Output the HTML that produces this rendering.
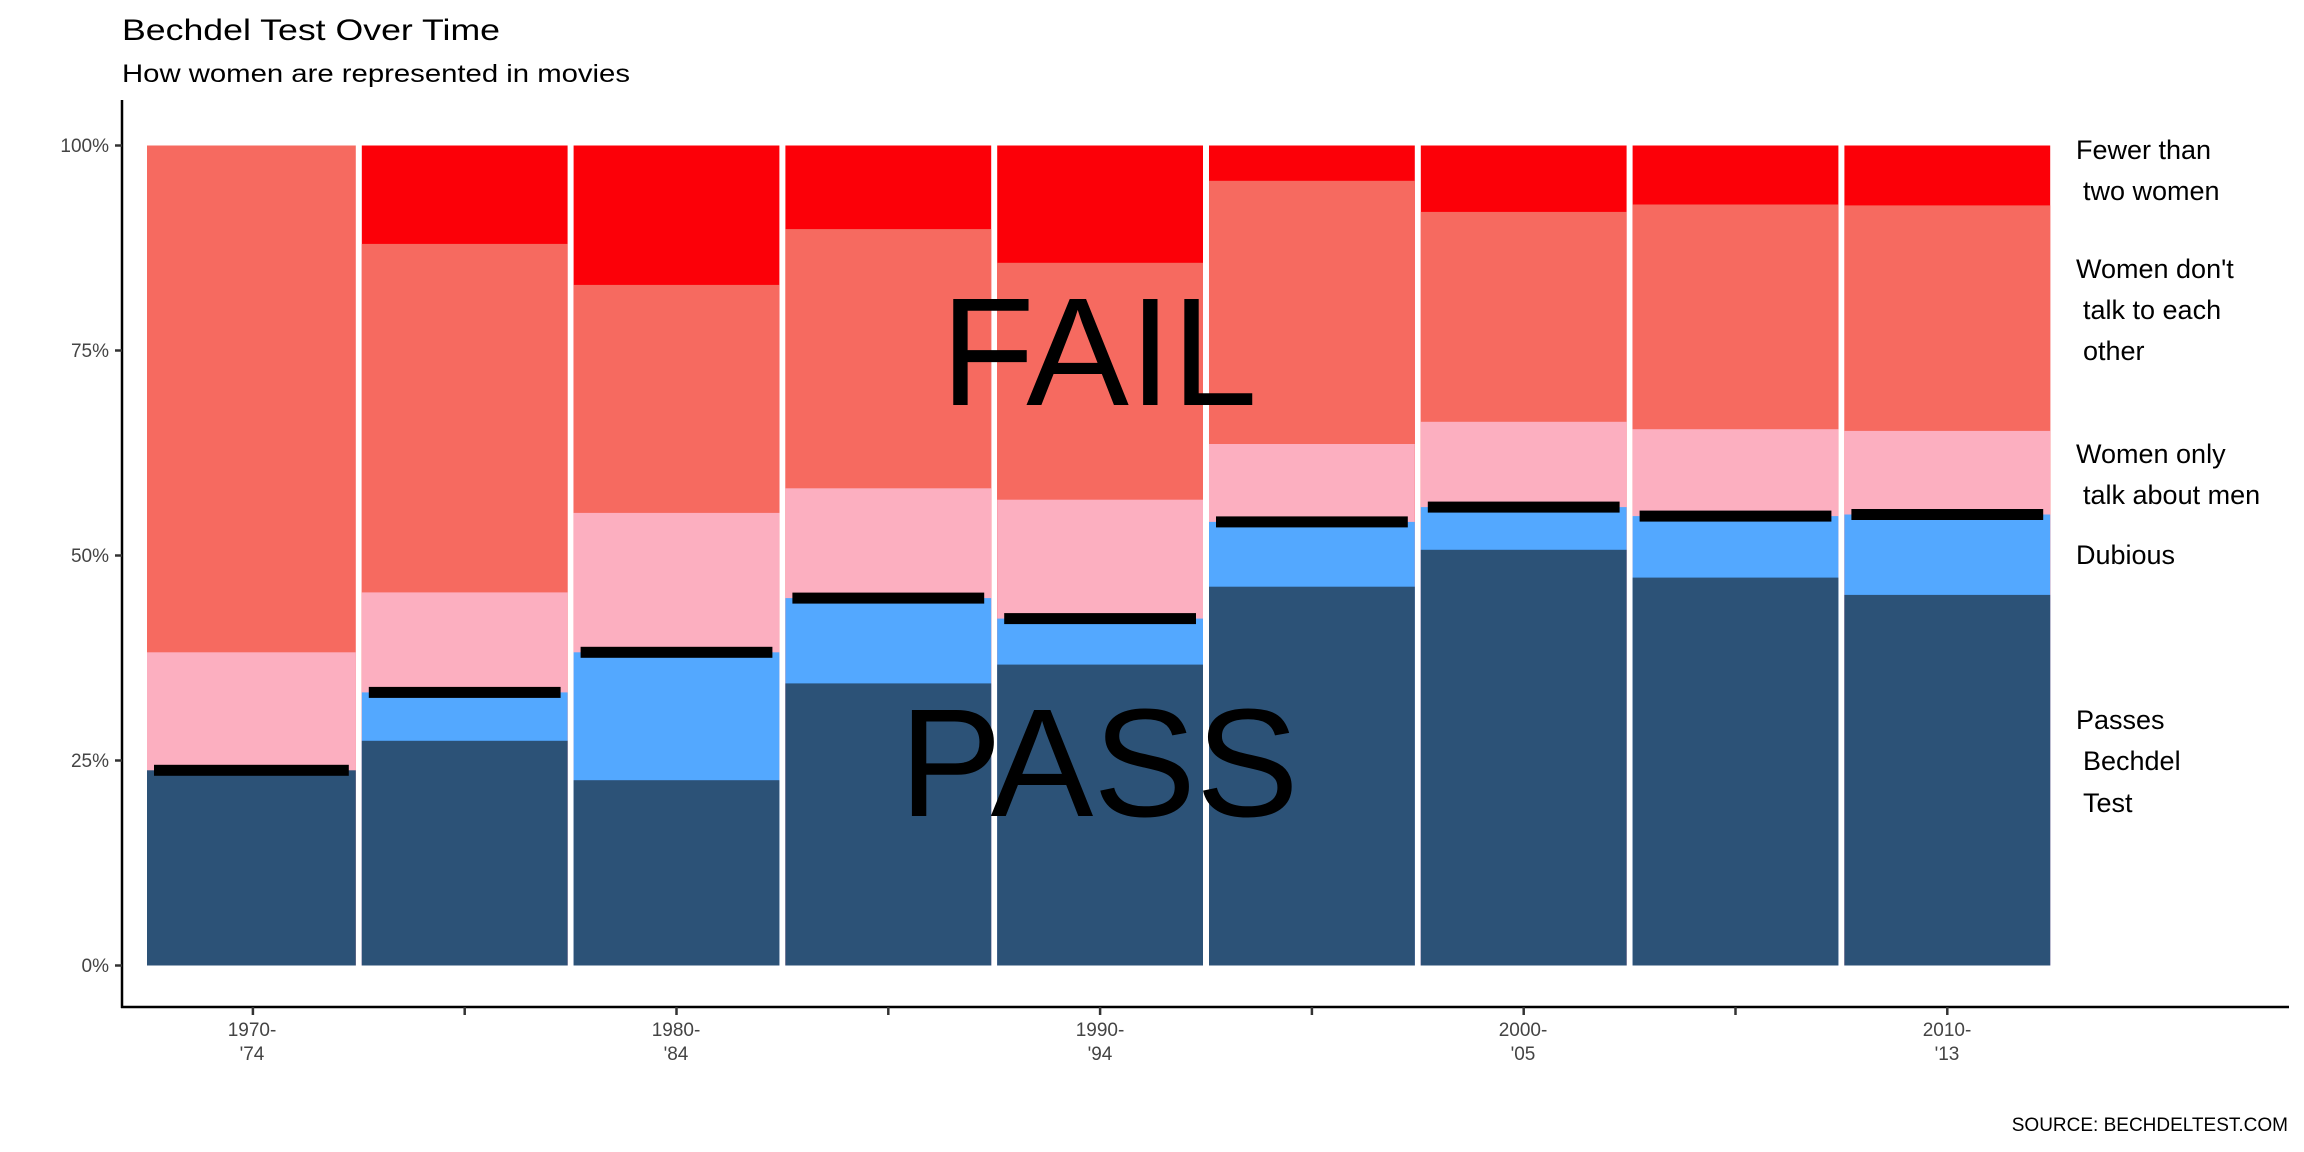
<!DOCTYPE html>
<html><head><meta charset="utf-8"><style>html,body{margin:0;padding:0;background:#fff}svg{display:block}text{font-family:"Liberation Sans",Arial,sans-serif}</style></head>
<body>
<svg width="2304" height="1152" viewBox="0 0 2304 1152" xmlns="http://www.w3.org/2000/svg">
<rect width="2304" height="1152" fill="#fff"/>
<text x="122" y="40" font-size="30" fill="#000" textLength="378" lengthAdjust="spacingAndGlyphs">Bechdel Test Over Time</text>
<text x="122" y="82" font-size="25" fill="#000" textLength="508" lengthAdjust="spacingAndGlyphs">How women are represented in movies</text>

<!-- bar 0 -->
<g>
<rect x="147" y="145.5" width="208.8" height="820" fill="#f66a60"/>
<rect x="147" y="652.3" width="208.8" height="313.2" fill="#fcafc0"/>
<rect x="147" y="770.3" width="208.8" height="195.2" fill="#2c5277"/>
<rect x="154" y="764.8" width="194.8" height="11" fill="#000"/>
</g>
<!-- bar 1 -->
<g>
<rect x="361.8" y="145.5" width="205.8" height="820" fill="#fc0008"/>
<rect x="361.8" y="243.9" width="205.8" height="721.6" fill="#f66a60"/>
<rect x="361.8" y="592.4" width="205.8" height="373.1" fill="#fcafc0"/>
<rect x="361.8" y="692.4" width="205.8" height="273.1" fill="#53a8ff"/>
<rect x="361.8" y="740.8" width="205.8" height="224.7" fill="#2c5277"/>
<rect x="368.8" y="686.9" width="191.8" height="11" fill="#000"/>
</g>
<!-- bar 2 -->
<g>
<rect x="573.6" y="145.5" width="205.8" height="820" fill="#fc0008"/>
<rect x="573.6" y="284.9" width="205.8" height="680.6" fill="#f66a60"/>
<rect x="573.6" y="512.9" width="205.8" height="452.6" fill="#fcafc0"/>
<rect x="573.6" y="652.3" width="205.8" height="313.2" fill="#53a8ff"/>
<rect x="573.6" y="780.2" width="205.8" height="185.3" fill="#2c5277"/>
<rect x="580.6" y="646.8" width="191.8" height="11" fill="#000"/>
</g>
<!-- bar 3 -->
<g>
<rect x="785.4" y="145.5" width="205.8" height="820" fill="#fc0008"/>
<rect x="785.4" y="229.1" width="205.8" height="736.4" fill="#f66a60"/>
<rect x="785.4" y="488.3" width="205.8" height="477.2" fill="#fcafc0"/>
<rect x="785.4" y="598.1" width="205.8" height="367.4" fill="#53a8ff"/>
<rect x="785.4" y="683.4" width="205.8" height="282.1" fill="#2c5277"/>
<rect x="792.4" y="592.6" width="191.8" height="11" fill="#000"/>
</g>
<!-- bar 4 -->
<g>
<rect x="997.2" y="145.5" width="205.8" height="820" fill="#fc0008"/>
<rect x="997.2" y="262.8" width="205.8" height="702.7" fill="#f66a60"/>
<rect x="997.2" y="499.7" width="205.8" height="465.8" fill="#fcafc0"/>
<rect x="997.2" y="618.6" width="205.8" height="346.9" fill="#53a8ff"/>
<rect x="997.2" y="664.6" width="205.8" height="300.9" fill="#2c5277"/>
<rect x="1004.2" y="613.1" width="191.8" height="11" fill="#000"/>
</g>
<!-- bar 5 -->
<g>
<rect x="1209" y="145.5" width="205.8" height="820" fill="#fc0008"/>
<rect x="1209" y="180.8" width="205.8" height="784.7" fill="#f66a60"/>
<rect x="1209" y="444" width="205.8" height="521.5" fill="#fcafc0"/>
<rect x="1209" y="521.9" width="205.8" height="443.6" fill="#53a8ff"/>
<rect x="1209" y="586.7" width="205.8" height="378.8" fill="#2c5277"/>
<rect x="1216" y="516.4" width="191.8" height="11" fill="#000"/>
</g>
<!-- bar 6 -->
<g>
<rect x="1420.8" y="145.5" width="205.8" height="820" fill="#fc0008"/>
<rect x="1420.8" y="211.9" width="205.8" height="753.6" fill="#f66a60"/>
<rect x="1420.8" y="421.8" width="205.8" height="543.7" fill="#fcafc0"/>
<rect x="1420.8" y="507.1" width="205.8" height="458.4" fill="#53a8ff"/>
<rect x="1420.8" y="549.8" width="205.8" height="415.7" fill="#2c5277"/>
<rect x="1427.8" y="501.6" width="191.8" height="11" fill="#000"/>
</g>
<!-- bar 7 -->
<g>
<rect x="1632.6" y="145.5" width="205.8" height="820" fill="#fc0008"/>
<rect x="1632.6" y="204.5" width="205.8" height="761" fill="#f66a60"/>
<rect x="1632.6" y="429.2" width="205.8" height="536.3" fill="#fcafc0"/>
<rect x="1632.6" y="516.1" width="205.8" height="449.4" fill="#53a8ff"/>
<rect x="1632.6" y="577.6" width="205.8" height="387.9" fill="#2c5277"/>
<rect x="1639.6" y="510.6" width="191.8" height="11" fill="#000"/>
</g>
<!-- bar 8 -->
<g>
<rect x="1844.4" y="145.5" width="205.8" height="820" fill="#fc0008"/>
<rect x="1844.4" y="205.4" width="205.8" height="760.1" fill="#f66a60"/>
<rect x="1844.4" y="430.9" width="205.8" height="534.6" fill="#fcafc0"/>
<rect x="1844.4" y="514.5" width="205.8" height="451" fill="#53a8ff"/>
<rect x="1844.4" y="594.9" width="205.8" height="370.6" fill="#2c5277"/>
<rect x="1851.4" y="509" width="191.8" height="11" fill="#000"/>
</g>

<line x1="122" y1="100" x2="122" y2="1008" stroke="#000" stroke-width="2.5"/>
<line x1="121" y1="1007" x2="2289" y2="1007" stroke="#000" stroke-width="2.5"/>
<g font-size="19" fill="#444" text-anchor="end">
<text x="109" y="152">100%</text><text x="109" y="357">75%</text><text x="109" y="562">50%</text><text x="109" y="767">25%</text><text x="109" y="972">0%</text>
</g>
<g stroke="#333" stroke-width="2.5">
<line x1="115" y1="145.5" x2="122" y2="145.5"/><line x1="115" y1="350.5" x2="122" y2="350.5"/><line x1="115" y1="555.5" x2="122" y2="555.5"/><line x1="115" y1="760.5" x2="122" y2="760.5"/><line x1="115" y1="965.5" x2="122" y2="965.5"/>
<line x1="252.9" y1="1007" x2="252.9" y2="1015"/><line x1="464.7" y1="1007" x2="464.7" y2="1015"/><line x1="676.5" y1="1007" x2="676.5" y2="1015"/><line x1="888.3" y1="1007" x2="888.3" y2="1015"/><line x1="1100.1" y1="1007" x2="1100.1" y2="1015"/><line x1="1311.9" y1="1007" x2="1311.9" y2="1015"/><line x1="1523.7" y1="1007" x2="1523.7" y2="1015"/><line x1="1735.5" y1="1007" x2="1735.5" y2="1015"/><line x1="1947.3" y1="1007" x2="1947.3" y2="1015"/>
</g>
<g font-size="19" fill="#444" text-anchor="middle">
<text x="252" y="1036">1970-</text><text x="252" y="1060">'74</text>
<text x="676" y="1036">1980-</text><text x="676" y="1060">'84</text>
<text x="1100" y="1036">1990-</text><text x="1100" y="1060">'94</text>
<text x="1523" y="1036">2000-</text><text x="1523" y="1060">'05</text>
<text x="1947" y="1036">2010-</text><text x="1947" y="1060">'13</text>
</g>
<g font-size="154" fill="#000" text-anchor="middle">
<text x="1099" y="405">FAIL</text>
<text x="1099" y="816">PASS</text>
</g>
<g font-size="27" fill="#000">
<text x="2076" y="159">Fewer than</text><text x="2083" y="200">two women</text>
<text x="2076" y="278">Women don't</text><text x="2083" y="319">talk to each</text><text x="2083" y="360">other</text>
<text x="2076" y="463">Women only</text><text x="2083" y="504">talk about men</text>
<text x="2076" y="564">Dubious</text>
<text x="2076" y="729">Passes</text><text x="2083" y="770">Bechdel</text><text x="2083" y="812">Test</text>
</g>
<text x="2288" y="1131" font-size="19" fill="#000" text-anchor="end">SOURCE: BECHDELTEST.COM</text>
</svg>
</body></html>
